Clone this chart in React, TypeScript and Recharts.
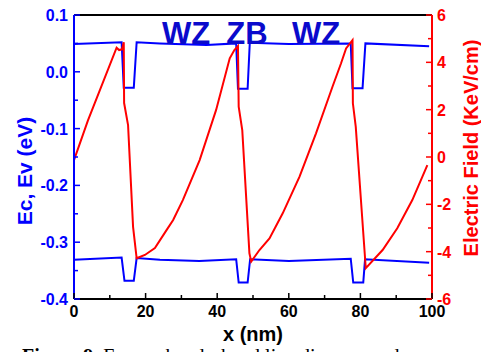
import { LineChart, Line, XAxis, YAxis } from 'recharts';

// conduction band edge (eV)
const ecX = [0, 13.3, 13.9, 16.7, 17.5, 24, 37, 45.3, 45.8, 48.5, 49.1, 60, 77.3, 77.8, 80.6, 81.4, 99.2];
const ecY = [0.049, 0.052, -0.028, -0.028, 0.052, 0.05, 0.047, 0.05, -0.03, -0.03, 0.051, 0.049, 0.05, -0.029, -0.029, 0.05, 0.045];

// valence band edge (eV)
const evX = [0, 13.3, 14.1, 16.7, 17.5, 24, 35, 45.3, 46.0, 48.5, 49.2, 60, 77.3, 78.0, 80.8, 81.3, 99.2];
const evY = [-0.331, -0.327, -0.368, -0.368, -0.328, -0.331, -0.333, -0.33, -0.371, -0.371, -0.33, -0.333, -0.329, -0.371, -0.371, -0.33, -0.336];

// electric field (KeV/cm)
const efX = [0, 3.9, 11.9, 12.6, 13.4, 13.9, 14.0, 15.1, 16.5, 17.5, 19.8, 22.6, 25.8, 27.7, 30.4, 35.1, 39.7, 43.5, 44.8, 45.8, 46.0, 47.0, 49.0, 49.5, 51.8, 54.6, 58.3, 63.0, 67.6, 72.2, 74.6, 76.0, 77.8, 77.9, 78.7, 81.5, 86.2, 90.3, 94.5, 98.7];
const efY = [-0.13, 1.55, 4.62, 4.52, 4.55, 4.85, 2.28, 1.35, -2.95, -4.28, -4.14, -3.85, -3.1, -2.66, -1.82, -0.13, 1.99, 4.17, 4.52, 4.69, 2.13, 1.14, -4.07, -4.42, -3.93, -3.44, -2.38, -0.83, 1.0, 2.97, 3.96, 4.59, 4.94, 2.27, 1.28, -4.7, -3.93, -3.01, -1.82, -0.34];

const xTicks = [0, 10, 20, 30, 40, 50, 60, 70, 80, 90, 100];
const xLabels = [0, 20, 40, 60, 80, 100];
const leftTicks = [-0.4, -0.35, -0.3, -0.25, -0.2, -0.15, -0.1, -0.05, 0, 0.05, 0.1];
const leftLabels = ['-0.4', '-0.3', '-0.2', '-0.1', '0.0', '0.1'];
const rightTicks = [-6, -5, -4, -3, -2, -1, 0, 1, 2, 3, 4, 5, 6];
const rightLabels = [-6, -4, -2, 0, 2, 4, 6];

const ec = ecX.map((x, i) => ({ x, v: ecY[i] }));
const ev = evX.map((x, i) => ({ x, v: evY[i] }));
const ef = efX.map((x, i) => ({ x, v: efY[i] }));

const FONT = '"Liberation Sans", Arial, sans-serif';
const BLUE = '#0000ff';
const RED = '#ff0000';

const bottomTick = (p: any) => {
  const v = p.payload.value;
  const major = xLabels.includes(v);
  return (
    <g>
      <line x1={p.x} x2={p.x} y1={p.y} y2={p.y - (major ? 6 : 4)} stroke="#000" strokeWidth={1.5} />
      {major && (
        <text x={p.x} y={p.y + 18} textAnchor="middle" fontFamily={FONT} fontWeight="bold" fontSize={16} fill="#000">
          {v}
        </text>
      )}
    </g>
  );
};

const topTick = (p: any) => {
  const major = xLabels.includes(p.payload.value);
  return <line x1={p.x} x2={p.x} y1={p.y} y2={p.y + (major ? 6 : 4)} stroke="#000" strokeWidth={1.5} />;
};

const leftTick = (p: any) => {
  const label = Number(p.payload.value).toFixed(1);
  const major = Math.abs(Math.round(p.payload.value * 10) - p.payload.value * 10) < 1e-6 && leftLabels.includes(label);
  return (
    <g>
      <line x1={p.x} x2={p.x + (major ? 6 : 4)} y1={p.y} y2={p.y} stroke={BLUE} strokeWidth={1.5} />
      {major && (
        <text x={p.x - 6} y={p.y + 6} textAnchor="end" fontFamily={FONT} fontWeight="bold" fontSize={16} fill={BLUE}>
          {label}
        </text>
      )}
    </g>
  );
};

const rightTick = (p: any) => {
  const v = p.payload.value;
  const major = rightLabels.includes(v);
  return (
    <g>
      <line x1={p.x} x2={p.x - (major ? 6 : 4)} y1={p.y} y2={p.y} stroke={RED} strokeWidth={1.5} />
      {major && (
        <text x={p.x + 5} y={p.y + 6} textAnchor="start" fontFamily={FONT} fontWeight="bold" fontSize={16} fill={RED}>
          {v}
        </text>
      )}
    </g>
  );
};

export default function App() {
  return (
    <div style={{ position: 'relative', width: 481, height: 352, overflow: 'hidden', background: '#fff' }}>
      <style>{`body{margin:0}`}</style>
      <LineChart width={481} height={352} margin={{ top: 0, right: 9, left: 14, bottom: 23 }}>
        <XAxis
          xAxisId="top"
          orientation="top"
          type="number"
          dataKey="x"
          domain={[0, 100]}
          ticks={xTicks}
          interval={0}
          height={15}
          tickSize={0}
          tickMargin={0}
          tick={topTick}
          axisLine={{ stroke: '#000', strokeWidth: 2 }}
        />
        <XAxis
          type="number"
          dataKey="x"
          domain={[0, 100]}
          ticks={xTicks}
          interval={0}
          height={30}
          tickSize={0}
          tickMargin={0}
          tick={bottomTick}
          axisLine={{ stroke: '#000', strokeWidth: 2 }}
        />
        <YAxis
          yAxisId="band"
          type="number"
          domain={[-0.4, 0.1]}
          ticks={leftTicks}
          interval={0}
          width={60}
          tickSize={0}
          tickMargin={0}
          tick={leftTick}
          axisLine={{ stroke: BLUE, strokeWidth: 2 }}
        />
        <YAxis
          yAxisId="field"
          orientation="right"
          type="number"
          domain={[-6, 6]}
          ticks={rightTicks}
          interval={0}
          width={40}
          tickSize={0}
          tickMargin={0}
          tick={rightTick}
          axisLine={{ stroke: RED, strokeWidth: 2 }}
        />
        <Line data={ec} xAxisId={0} yAxisId="band" dataKey="v" type="linear" stroke={BLUE} strokeWidth={2} dot={false} isAnimationActive={false} />
        <Line data={ev} xAxisId={0} yAxisId="band" dataKey="v" type="linear" stroke={BLUE} strokeWidth={2} dot={false} isAnimationActive={false} />
        <Line data={ef} xAxisId={0} yAxisId="field" dataKey="v" type="linear" stroke={RED} strokeWidth={2} dot={false} isAnimationActive={false} />
      </LineChart>
      <svg width={481} height={352} style={{ position: 'absolute', left: 0, top: 0, pointerEvents: 'none' }}>
        <g fontFamily={FONT} fontWeight="bold" fontSize={31} fill="#0a0acc">
          <text x={186} y={44} textAnchor="middle">WZ</text>
          <text x={247} y={44} textAnchor="middle">ZB</text>
          <text x={316} y={44} textAnchor="middle">WZ</text>
        </g>
        <text transform="translate(32,171) rotate(-90)" textAnchor="middle" fontFamily={FONT} fontWeight="bold" fontSize={21} fill={BLUE}>
          Ec, Ev (eV)
        </text>
        <text transform="translate(478,148) rotate(-90)" textAnchor="middle" fontFamily={FONT} fontWeight="bold" fontSize={20} fill={RED}>
          Electric Field (KeV/cm)
        </text>
        <text x={253} y={341} textAnchor="middle" fontFamily={FONT} fontWeight="bold" fontSize={20} fill="#000">
          x (nm)
        </text>
        <text x={22} y={363} fontFamily='"Liberation Serif", "Times New Roman", serif' fontSize={20} fill="#000">
          <tspan fontWeight="bold">Figure 9.</tspan> Energy band - band line diagram and
        </text>
      </svg>
    </div>
  );
}
